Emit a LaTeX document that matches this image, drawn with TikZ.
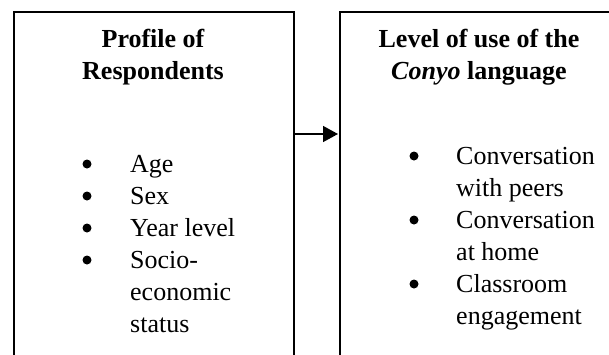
\documentclass[tikz,border=0pt]{standalone}
\usepackage{fontspec}
\setmainfont{Liberation Serif}
\usetikzlibrary{arrows.meta}
\begin{document}
\begin{tikzpicture}[x=1pt,y=-1pt,
  box/.style={draw,line width=1.5pt,rectangle,inner sep=0,minimum width=280pt,minimum height=400pt,anchor=north west},
  head/.style={font=\fontsize{26}{32}\selectfont\bfseries,anchor=base,inner sep=0},
  itemtxt/.style={font=\fontsize{26}{32}\selectfont,anchor=base west,inner sep=0},
  dot/.style={circle,fill,inner sep=0,minimum size=9pt},
  link/.style={line width=1.5pt,-{Triangle[length=15pt,width=16pt]}}]
\useasboundingbox (0,0) rectangle (609,354);
\clip (0,0) rectangle (609,354);
\node[box] (left) at (13,11) {};
\node[box] (right) at (339,11) {};
\coordinate (as) at (293,134);
\coordinate (ae) at (338,134);
\draw[link] (as) -- (ae);
% headings
\node[head] (h1) at (153,47) {Profile of};
\node[head] (h2) at (153,79) {Respondents};
\node[head] (h3) at (479,47) {Level of use of the};
\node[head] (h4) at (479,79) {\textit{Conyo} language};
% left items
\node[itemtxt] (l1) at (130,172) {Age};
\node[itemtxt] (l2) at (130,204) {Sex};
\node[itemtxt] (l3) at (130,236) {Year level};
\node[itemtxt] (l4) at (130,268) {Socio-};
\node[itemtxt] (l5) at (130,300) {economic};
\node[itemtxt] (l6) at (130,332) {status};
\node[dot] (d1) at (87,164) {};
\node[dot] (d2) at (87,196) {};
\node[dot] (d3) at (87,228) {};
\node[dot] (d4) at (87,260) {};
% right items
\node[itemtxt] (r1) at (456,164) {Conversation};
\node[itemtxt] (r2) at (456,196) {with peers};
\node[itemtxt] (r3) at (456,228) {Conversation};
\node[itemtxt] (r4) at (456,260) {at home};
\node[itemtxt] (r5) at (456,292) {Classroom};
\node[itemtxt] (r6) at (456,324) {engagement};
\node[dot] (e1) at (414,156) {};
\node[dot] (e2) at (414,220) {};
\node[dot] (e3) at (414,284) {};
\end{tikzpicture}
\end{document}
